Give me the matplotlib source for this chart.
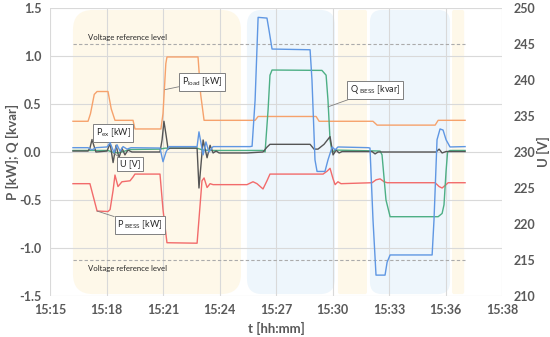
import matplotlib
matplotlib.use("Agg")
import matplotlib.pyplot as plt
from matplotlib.patches import FancyBboxPatch

plt.rcParams["font.family"] = ["Lato", "DejaVu Sans"]
plt.rcParams["mathtext.fontset"] = "custom"
plt.rcParams["mathtext.rm"] = "Lato"
plt.rcParams["mathtext.it"] = "Lato:italic"
plt.rcParams["mathtext.bf"] = "Lato:bold"

# time axis: minutes after 15:15
tick_pos = [0, 3, 6, 9, 12, 15, 18, 21, 24]
tick_labels = ["15:15", "15:18", "15:21", "15:24", "15:27", "15:30", "15:33", "15:36", "15:38"]

# P load [kW]
t_load = [1.22, 2.02, 2.15, 2.35, 2.50, 3.08, 3.25, 3.45, 4.41, 4.51, 5.89, 6.00, 6.15, 6.21,
          7.86, 8.00, 8.18, 10.89, 11.05, 14.13, 14.29, 17.15, 17.37, 20.45, 20.61, 22.04]
p_load = [0.32, 0.32, 0.40, 0.60, 0.63, 0.63, 0.45, 0.33, 0.33, 0.24, 0.24, 0.40, 0.92, 0.99,
          0.99, 0.60, 0.33, 0.33, 0.37, 0.37, 0.32, 0.32, 0.28, 0.28, 0.33, 0.33]

# P BESS [kW]
t_pb = [1.22, 2.12, 2.28, 2.50, 3.08, 3.19, 3.35, 3.45, 3.61, 3.82, 4.25, 4.41, 4.51, 5.84,
        6.00, 6.21, 7.81, 7.91, 8.07, 8.18, 8.34, 8.50, 8.66, 10.46, 10.78, 10.99, 11.31,
        11.52, 11.68, 14.50, 14.71, 14.87, 15.03, 15.14, 15.29, 15.45, 17.10, 17.31, 17.53,
        17.74, 17.90, 20.45, 20.66, 20.82, 21.03, 21.14, 22.04]
p_bess = [-0.33, -0.33, -0.45, -0.615, -0.62, -0.60, -0.40, -0.24, -0.36, -0.31, -0.30, -0.26,
          -0.23, -0.23, -0.60, -0.945, -0.95, -0.70, -0.30, -0.27, -0.37, -0.33, -0.34, -0.34,
          -0.31, -0.33, -0.385, -0.30, -0.23, -0.23, -0.20, -0.17, -0.28, -0.34, -0.31, -0.33,
          -0.32, -0.29, -0.28, -0.31, -0.32, -0.32, -0.36, -0.375, -0.34, -0.32, -0.32]

# U [V]
t_u = [1.22, 2.02, 2.23, 2.44, 3.03, 3.19, 3.40, 3.56, 3.72, 3.88, 4.09, 4.30, 5.84, 6.00,
       6.16, 6.32, 7.81, 7.91, 8.13, 8.28, 8.44, 8.66, 10.62, 10.73, 10.89, 11.05, 11.52,
       11.63, 11.79, 13.81, 13.91, 14.07, 14.18, 14.60, 14.76, 14.98, 15.14, 15.29, 16.89,
       16.99, 17.15, 17.31, 17.79, 17.90, 18.06, 20.29, 20.39, 20.55, 20.71, 20.87, 21.03,
       21.24, 22.04]
u_v = [230.6, 230.6, 230.3, 230.6, 230.7, 231.3, 229.9, 231.0, 230.1, 230.75, 230.4, 230.6,
       230.55, 228.65, 230.0, 230.75, 230.75, 232.8, 229.6, 231.4, 230.0, 230.75, 230.75,
       230.8, 237.2, 248.7, 248.6, 246.9, 244.3, 244.2, 240.0, 228.9, 227.3, 227.3, 228.9,
       230.7, 230.3, 230.7, 230.6, 230.55, 220.6, 212.9, 212.9, 214.7, 215.7, 215.7, 220.6,
       231.7, 233.2, 233.05, 231.7, 230.7, 230.75]

# Q BESS [kvar]
t_q = [1.22, 3.08, 3.29, 3.61, 3.98, 4.25, 5.84, 6.11, 7.81, 8.13, 8.66, 11.31, 11.42, 11.58,
       11.68, 11.79, 14.44, 14.66, 14.76, 14.87, 14.98, 15.19, 17.53, 17.63, 17.84, 18.06,
       20.61, 20.82, 20.92, 21.03, 21.11, 21.24, 22.04]
q_bess = [0.016, 0.016, 0.0, -0.01, 0.01, 0.026, 0.03, 0.04, 0.04, 0.02, 0.016, 0.016, 0.0,
          0.44, 0.80, 0.854, 0.85, 0.80, 0.54, 0.125, 0.0, 0.02, 0.01, -0.03, -0.50, -0.674,
          -0.674, -0.64, -0.55, -0.20, 0.0, 0.016, 0.016]

# P ex [kW]
t_ex = [1.22, 2.02, 2.12, 2.23, 2.34, 2.44, 3.03, 3.19, 3.35, 3.51, 3.66, 3.82, 3.98, 4.14,
        4.35, 5.84, 5.95, 6.05, 6.16, 6.27, 6.37, 7.81, 7.91, 8.13, 8.34, 8.50, 8.66, 8.82,
        8.98, 10.46, 11.31, 11.52, 11.68, 13.81, 14.02, 14.23, 14.55, 14.87, 15.03, 15.19,
        15.35, 15.51, 17.10, 17.26, 17.42, 20.50, 20.66, 20.82, 21.03, 22.04]
p_ex = [0.01, 0.01, 0.04, 0.13, 0.06, 0.0, 0.01, 0.09, -0.11, 0.07, -0.06, 0.04, -0.03, 0.02,
        0.0, 0.0, 0.125, 0.32, 0.18, 0.03, 0.04, 0.04, -0.375, 0.125, -0.06, 0.07, -0.01,
        0.01, -0.01, -0.01, 0.0, 0.05, 0.08, 0.08, 0.03, 0.03, 0.08, 0.16, -0.03, 0.02,
        -0.01, 0.005, 0.005, -0.02, 0.0, 0.0, 0.03, -0.01, 0.005, 0.005]

# shaded test phases (start, end, rounding radius in px)
yellow_spans = [(1.22, 10.14, 20), (15.29, 16.83, 2), (21.35, 21.99, 2)]
blue_spans = [(10.46, 15.13, 15), (16.99, 21.24, 12)]
u_ref = [245, 215]
ref_start, ref_end = 1.22, 22.04

GRID = "#d9d9d9"
TXT = "#595959"

fig = plt.figure(figsize=(5.5, 3.37), dpi=100)
ax = fig.add_axes([50 / 550, 1 - 296 / 337, 452 / 550, 288 / 337])
ax.set_xlim(0, 24)
ax.set_ylim(-1.5, 1.5)

sx = 452 / 24.0
sy = 288 / 3.0
for spans, color in [(yellow_spans, "#fef8e9"), (blue_spans, "#eef6fc")]:
    for x0, x1, rad in spans:
        box = FancyBboxPatch((x0, -1.48), x1 - x0, 2.96,
                             boxstyle=f"round,pad=0,rounding_size={rad / sx}",
                             mutation_aspect=sx / sy, fc=color, ec="none", zorder=0.2)
        ax.add_patch(box)

ax.set_axisbelow(True)
ax.grid(True, color=GRID, lw=0.8)
ax.set_xticks(tick_pos)
ax.set_xticklabels(tick_labels)
ax.set_yticks([-1.5, -1.0, -0.5, 0.0, 0.5, 1.0, 1.5])
ax.set_yticklabels(["-1.5", "-1.0", "-0.5", "0.0", "0.5", "1.0", "1.5"])
for s in ax.spines.values():
    s.set_visible(False)
ax.tick_params(length=0, labelsize=9, labelcolor=TXT, pad=6)
for lab in ax.get_xticklabels() + ax.get_yticklabels():
    lab.set_fontweight("bold")

lw = 1.0
ax.plot(t_load, p_load, color="#f6a26c", lw=lw, zorder=3)
ax.plot(t_pb, p_bess, color="#f26b6b", lw=lw, zorder=3)
ax.plot(t_q, q_bess, color="#4daf85", lw=lw, zorder=3)
ax.plot(t_ex, p_ex, color="#555555", lw=lw, zorder=3)

ax2 = ax.twinx()
ax2.set_ylim(210, 250)
ax2.set_yticks([210, 215, 220, 225, 230, 235, 240, 245, 250])
for s in ax2.spines.values():
    s.set_visible(False)
ax2.tick_params(length=0, labelsize=9, labelcolor=TXT, pad=8)
for lab in ax2.get_yticklabels():
    lab.set_fontweight("bold")
ax2.hlines(u_ref, ref_start, ref_end, colors="#ababab", linestyles=(0, (3, 2)), lw=0.8)
ax2.plot(t_u, u_v, color="#5f97e3", lw=lw, zorder=3)

ax.text(2.0, 1.19, "Voltage reference level", fontsize=5.6, color="#262626", va="center")
ax.text(2.0, -1.21, "Voltage reference level", fontsize=5.6, color="#262626", va="center")

box_kw = dict(boxstyle="square,pad=0.3", fc="white", ec="#808080", lw=0.7)
arrow_kw = dict(arrowstyle="-", color="#7f7f7f", lw=0.6, shrinkA=0, shrinkB=0)
notes = [
    (r"P$_{\rm load}$ [kW]", (6.11, 0.65), (8.07, 0.73)),
    (r"P$_{\rm ex}$ [kW]", (2.23, 0.12), (3.35, 0.20)),
    ("U [V]", (3.35, -0.01), (4.25, -0.125)),
    (r"P $_{\rm BESS}$ [kW]", (2.50, -0.615), (4.78, -0.76)),
    (r"Q $_{\rm BESS}$ [kvar]", (14.76, 0.47), (17.26, 0.646)),
]
for label, xy, xytext in notes:
    ax.annotate(label, xy=xy, xytext=xytext, fontsize=6.5, color="#262626",
                ha="center", va="center", bbox=box_kw, arrowprops=arrow_kw, zorder=6)

fig.text(12 / 550, 1 - 152 / 337, "P [kW]; Q [kvar]", rotation=90, ha="center", va="center",
         fontsize=9.5, fontweight="bold", color=TXT)
fig.text(543 / 550, 1 - 152 / 337, "U [V]", rotation=90, ha="center", va="center",
         fontsize=9.5, fontweight="bold", color=TXT)
fig.text(276 / 550, 1 - 328 / 337, "t [hh:mm]", ha="center", va="center",
         fontsize=9.5, fontweight="bold", color=TXT)

fig.savefig("out.png", dpi=100)
